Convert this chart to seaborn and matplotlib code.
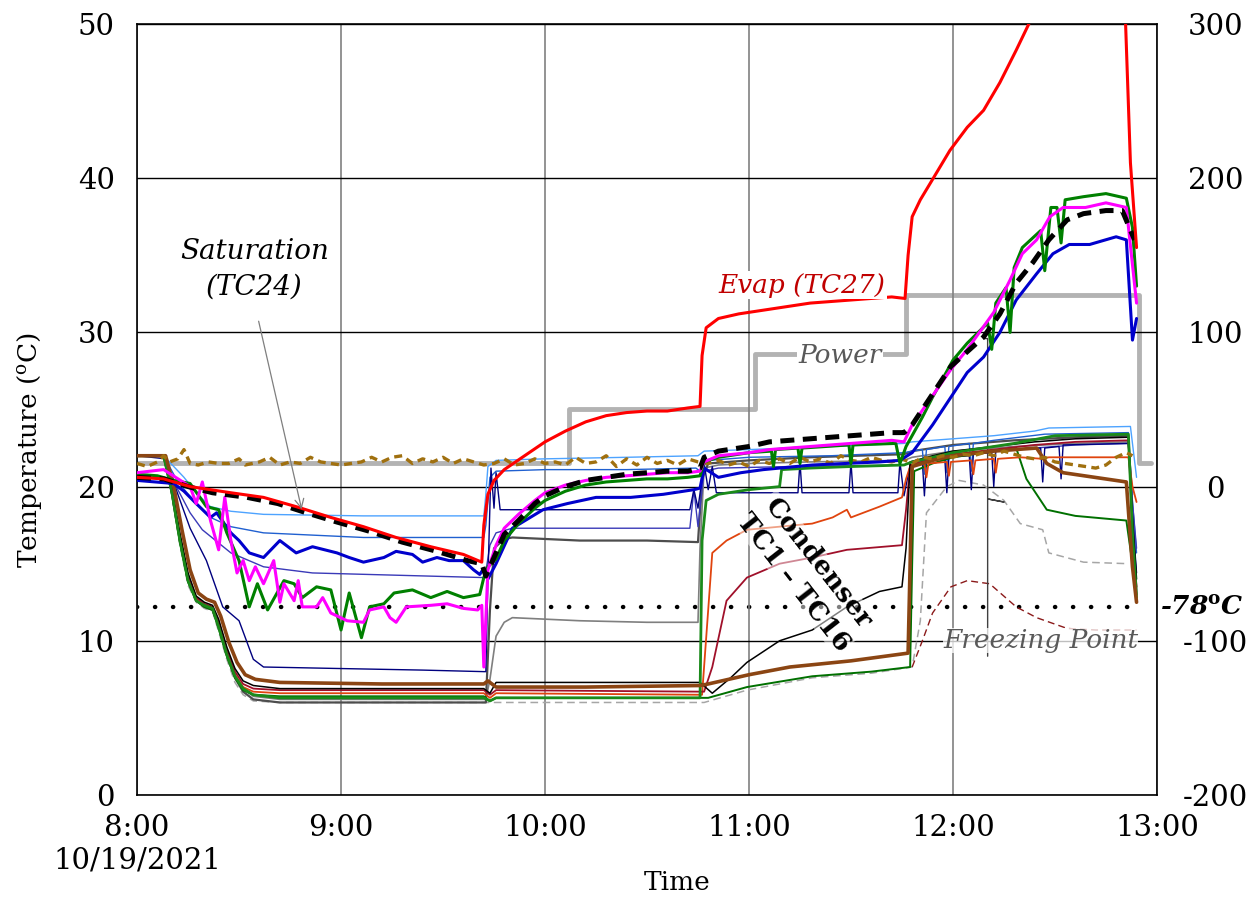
import matplotlib
matplotlib.use("Agg")
import matplotlib.pyplot as plt
import matplotlib.transforms as mtransforms
import seaborn as sns

# -------------------- data --------------------
# time in hours (8.0 = 8:00), temperature in degC, power on the right axis
X_TICKS = [8, 9, 10, 11, 12, 13]
X_LABELS = ["8:00\n10/19/2021", "9:00", "10:00", "11:00", "12:00", "13:00"]
Y_TICKS = [0, 10, 20, 30, 40, 50]
Y2_TICKS = [-200, -100, 0, 100, 200, 300]

power_t = [8.0, 10.12, 11.03, 11.77, 12.91, 12.97]
power_v = [15, 50, 86, 124, 15, 15]
dryice_t = [8.0, 12.89]
dryice_v = [-78, -78]

evap_pts = [(8.0, 20.6), (8.13, 20.5), (8.26, 20.0), (8.46, 19.6), (8.62, 19.3), (8.78, 18.7),
            (8.95, 18.0), (9.11, 17.4), (9.27, 16.7), (9.44, 16.1), (9.60, 15.6), (9.69, 15.1),
            (9.70, 17.5), (9.72, 19.5), (9.75, 20.4), (9.8, 21.1), (9.9, 22.0), (10.0, 22.9),
            (10.1, 23.6), (10.2, 24.2), (10.3, 24.6), (10.4, 24.8), (10.5, 24.9), (10.6, 24.9),
            (10.7, 25.1), (10.76, 25.2), (10.77, 28.5), (10.79, 30.3), (10.85, 30.9), (10.95, 31.2),
            (11.1, 31.5), (11.3, 31.9), (11.5, 32.1), (11.7, 32.3), (11.765, 32.2), (11.78, 35.0),
            (11.80, 37.5), (11.84, 38.6), (11.89, 39.7), (11.985, 41.8), (12.07, 43.3), (12.15, 44.4),
            (12.23, 46.2), (12.31, 48.3), (12.39, 50.5)]
evap_tail_pts = [(12.845, 50.5), (12.87, 41.0), (12.90, 35.5)]

sat_pts = [(8.0, 20.6), (8.13, 20.5), (8.25, 20.0), (8.37, 19.6), (8.54, 19.3), (8.69, 18.9),
           (8.83, 18.3), (8.98, 17.7), (9.14, 17.1), (9.30, 16.4), (9.47, 15.8), (9.62, 15.2),
           (9.69, 15.0), (9.71, 14.2), (9.73, 14.8), (9.76, 15.7), (9.8, 16.9), (9.87, 17.8),
           (9.95, 18.9), (10.0, 19.4), (10.1, 20.0), (10.2, 20.4), (10.3, 20.6), (10.4, 20.8),
           (10.5, 20.9), (10.6, 21.0), (10.7, 21.0), (10.76, 21.2), (10.78, 21.9), (10.85, 22.3),
           (11.0, 22.6), (11.1, 22.9), (11.2, 23.0), (11.3, 23.1), (11.4, 23.2), (11.5, 23.3),
           (11.6, 23.4), (11.7, 23.5), (11.76, 23.5), (11.8, 24.0), (11.89, 25.8), (11.99, 27.8),
           (12.15, 29.7), (12.23, 31.2), (12.31, 33.2), (12.39, 34.5), (12.47, 36.0), (12.56, 37.3),
           (12.64, 37.7), (12.75, 37.9), (12.83, 37.9), (12.89, 36.0)]

magenta_pts = [(8.0, 20.9), (8.13, 21.1), (8.26, 20.0), (8.29, 18.9), (8.32, 20.3), (8.36, 17.8),
               (8.40, 15.9), (8.43, 19.3), (8.46, 16.5), (8.49, 14.4), (8.52, 15.2), (8.55, 13.9),
               (8.58, 14.8), (8.62, 13.7), (8.67, 15.2), (8.70, 12.5), (8.72, 13.7), (8.77, 12.6),
               (8.79, 13.9), (8.81, 12.2), (8.88, 12.2), (8.91, 12.8), (8.95, 11.8), (9.03, 11.3),
               (9.11, 11.2), (9.14, 12.0), (9.21, 12.2), (9.24, 11.5), (9.27, 11.2), (9.32, 12.2),
               (9.44, 12.3), (9.52, 12.4), (9.60, 12.1), (9.67, 12.0), (9.69, 12.3), (9.70, 8.3),
               (9.72, 14.6), (9.76, 16.2), (9.80, 17.3), (9.87, 18.2), (9.95, 19.1), (10.0, 19.6),
               (10.1, 20.1), (10.2, 20.4), (10.3, 20.6), (10.4, 20.7), (10.5, 20.8), (10.6, 20.9),
               (10.7, 20.9), (10.76, 21.0), (10.78, 21.6), (10.85, 22.0), (11.0, 22.2), (11.1, 22.4),
               (11.2, 22.5), (11.3, 22.6), (11.4, 22.7), (11.5, 22.8), (11.6, 22.9), (11.7, 23.0),
               (11.76, 22.9), (11.8, 24.0), (11.89, 25.7), (11.99, 27.6), (12.07, 28.9), (12.2, 31.3),
               (12.28, 33.4), (12.34, 35.1), (12.41, 36.0), (12.475, 37.5), (12.54, 38.1), (12.65, 38.1),
               (12.75, 38.4), (12.85, 38.1), (12.90, 31.9)]

green_pts = [(8.0, 20.8), (8.10, 20.7), (8.18, 20.4), (8.26, 20.2), (8.34, 18.7), (8.40, 18.5),
             (8.44, 17.0), (8.50, 15.2), (8.55, 12.2), (8.59, 13.7), (8.64, 12.0), (8.72, 13.9),
             (8.77, 13.7), (8.81, 12.8), (8.88, 13.5), (8.95, 13.3), (9.0, 10.7), (9.04, 13.1),
             (9.10, 10.2), (9.14, 12.2), (9.21, 12.4), (9.26, 13.1), (9.35, 13.3), (9.44, 12.8),
             (9.52, 13.2), (9.60, 12.8), (9.68, 13.0), (9.70, 14.1), (9.72, 14.8), (9.76, 15.3),
             (9.80, 16.5), (9.87, 17.6), (9.95, 18.6), (10.0, 19.1), (10.1, 19.7), (10.2, 20.1),
             (10.3, 20.3), (10.4, 20.4), (10.5, 20.5), (10.6, 20.5), (10.7, 20.6), (10.76, 20.7),
             (10.78, 21.6), (10.85, 21.9), (11.0, 22.2), (11.11, 22.3), (11.12, 21.3), (11.13, 22.4),
             (11.24, 22.5), (11.25, 21.5), (11.26, 22.5), (11.49, 22.7), (11.50, 21.5), (11.51, 22.7),
             (11.72, 22.8), (11.74, 21.5), (11.77, 22.6), (11.85, 24.5), (11.9, 25.8), (11.95, 27.0),
             (12.0, 28.2), (12.07, 29.3), (12.17, 30.6), (12.19, 28.9), (12.21, 31.9), (12.26, 32.9),
             (12.28, 30.0), (12.30, 34.2), (12.34, 35.5), (12.43, 36.6), (12.45, 34.0), (12.48, 38.1),
             (12.51, 38.1), (12.53, 35.8), (12.55, 38.6), (12.64, 38.8), (12.75, 39.0), (12.85, 38.7),
             (12.88, 36.8), (12.90, 33.0)]

blue_pts = [(8.0, 20.4), (8.18, 20.2), (8.23, 19.7), (8.29, 18.9), (8.36, 18.0), (8.39, 18.3),
            (8.46, 17.0), (8.50, 16.5), (8.55, 15.7), (8.62, 15.4), (8.70, 16.5), (8.78, 15.7),
            (8.86, 16.1), (8.98, 15.7), (9.04, 15.4), (9.11, 15.1), (9.21, 15.4), (9.27, 15.8),
            (9.35, 15.6), (9.40, 15.1), (9.47, 15.4), (9.53, 15.2), (9.60, 15.2), (9.65, 14.6),
            (9.68, 14.3), (9.70, 14.7), (9.72, 14.0), (9.76, 15.0), (9.84, 17.3), (9.99, 18.5),
            (10.11, 18.9), (10.25, 19.3), (10.42, 19.3), (10.58, 19.5), (10.73, 19.8), (10.76, 19.9),
            (10.78, 21.2), (10.85, 20.6), (10.96, 20.9), (11.07, 21.1), (11.31, 21.4), (11.64, 21.6),
            (11.74, 21.7), (11.80, 22.2), (11.90, 24.0), (11.99, 25.8), (12.07, 27.4), (12.15, 28.4),
            (12.23, 30.0), (12.31, 32.1), (12.41, 33.8), (12.49, 35.1), (12.57, 35.7), (12.67, 35.7),
            (12.80, 36.2), (12.85, 36.0), (12.88, 29.5), (12.90, 30.9)]

ambient_pts = [(8.0, 21.5), (8.05, 21.3), (8.1, 21.6), (8.13, 22.0), (8.16, 21.6), (8.2, 21.8),
               (8.23, 22.4), (8.26, 21.5), (8.3, 21.4), (8.35, 21.6), (8.4, 21.5), (8.45, 21.5),
               (8.5, 21.8), (8.53, 21.4), (8.6, 21.6), (8.65, 21.9), (8.7, 21.4), (8.75, 21.6),
               (8.8, 21.5), (8.85, 21.9), (8.9, 21.6), (8.95, 21.5), (9.0, 21.4), (9.05, 21.5),
               (9.1, 21.6), (9.15, 21.9), (9.2, 21.6), (9.25, 21.9), (9.3, 22.0), (9.35, 21.5),
               (9.4, 21.8), (9.45, 21.6), (9.5, 21.9), (9.55, 21.5), (9.6, 21.8), (9.65, 21.6),
               (9.7, 21.4), (9.75, 21.5), (9.8, 21.8), (9.85, 21.4), (9.9, 21.5), (9.95, 21.8),
               (10.0, 21.5), (10.05, 21.6), (10.1, 21.4), (10.15, 21.9), (10.2, 21.5), (10.25, 21.6),
               (10.3, 22.0), (10.35, 21.3), (10.4, 21.8), (10.45, 21.4), (10.5, 21.9), (10.55, 21.5),
               (10.6, 21.7), (10.65, 21.4), (10.7, 21.8), (10.75, 21.6), (10.8, 21.5), (10.85, 21.7),
               (10.9, 21.4), (10.95, 21.6), (11.0, 21.3), (11.05, 21.7), (11.1, 21.5), (11.15, 21.8),
               (11.2, 21.5), (11.25, 21.9), (11.3, 21.6), (11.35, 21.8), (11.4, 21.5), (11.45, 22.0),
               (11.5, 21.7), (11.55, 21.6), (11.6, 21.9), (11.65, 21.7), (11.7, 21.6), (11.75, 21.8),
               (11.8, 21.5), (11.85, 21.9), (11.9, 21.8), (11.95, 22.0), (12.0, 21.9), (12.05, 22.1),
               (12.1, 22.0), (12.15, 22.2), (12.2, 22.0), (12.25, 22.3), (12.3, 22.1), (12.35, 21.9),
               (12.4, 21.8), (12.45, 21.9), (12.5, 21.6), (12.55, 21.5), (12.6, 21.4), (12.65, 21.3),
               (12.7, 21.2), (12.75, 21.4), (12.8, 21.9), (12.85, 22.2), (12.88, 22.0)]

# condenser thermocouples
brown_pts = [(8.0, 22.0), (8.14, 22.0), (8.18, 20.0), (8.22, 17.2), (8.26, 14.6), (8.30, 13.1),
             (8.34, 12.7), (8.38, 12.5), (8.41, 11.6), (8.45, 9.9), (8.49, 8.6), (8.53, 7.8),
             (8.58, 7.5), (8.70, 7.3), (9.2, 7.2), (9.70, 7.2), (9.72, 7.4), (9.76, 7.0),
             (10.2, 7.0), (10.76, 7.1), (10.8, 7.2), (11.0, 7.8), (11.2, 8.3), (11.5, 8.7),
             (11.78, 9.2), (11.79, 15.0), (11.80, 21.3), (11.9, 21.7), (12.0, 22.0), (12.2, 22.3),
             (12.41, 22.5), (12.46, 21.5), (12.54, 20.9), (12.85, 20.3), (12.88, 14.8), (12.90, 12.5)]

black_pts = [(8.0, 22.0), (8.13, 22.0), (8.17, 20.0), (8.21, 17.0), (8.25, 14.4), (8.29, 12.9),
             (8.33, 12.5), (8.37, 12.3), (8.40, 11.4), (8.44, 9.6), (8.48, 8.2), (8.52, 7.4),
             (8.57, 7.1), (8.70, 6.9), (9.70, 6.9), (9.73, 6.6), (9.76, 7.3), (10.76, 7.3),
             (10.82, 6.6), (10.91, 7.6), (10.99, 8.6), (11.15, 10.0), (11.31, 10.7), (11.48, 12.2),
             (11.64, 13.2), (11.75, 13.5), (11.77, 16.0), (11.79, 21.6), (11.9, 22.0), (12.0, 22.3),
             (12.2, 22.6), (12.4, 22.9), (12.6, 23.1), (12.86, 23.2), (12.88, 18.0), (12.90, 14.0)]

crimson_pts = [(8.0, 22.0), (8.13, 22.0), (8.17, 19.8), (8.21, 16.8), (8.25, 14.2), (8.29, 12.8),
               (8.33, 12.4), (8.37, 12.2), (8.40, 11.2), (8.44, 9.4), (8.48, 8.0), (8.52, 7.2),
               (8.57, 6.9), (8.70, 6.8), (9.70, 6.8), (9.73, 6.5), (9.76, 6.8), (10.78, 6.7),
               (10.82, 8.3), (10.89, 12.6), (10.99, 14.1), (11.15, 15.0), (11.31, 15.4), (11.48, 15.9),
               (11.75, 16.2), (11.77, 18.5), (11.79, 21.4), (11.9, 21.8), (12.0, 22.1), (12.2, 22.4),
               (12.4, 22.7), (12.6, 22.9), (12.86, 23.0), (12.88, 17.0), (12.90, 13.5)]

orange_pts = [(8.0, 22.0), (8.13, 22.0), (8.17, 19.7), (8.21, 16.6), (8.25, 14.0), (8.29, 12.7),
              (8.33, 12.3), (8.37, 12.1), (8.40, 11.0), (8.44, 9.2), (8.48, 7.8), (8.52, 7.0),
              (8.57, 6.7), (8.70, 6.6), (9.70, 6.6), (9.73, 6.3), (9.76, 6.6), (10.77, 6.5),
              (10.80, 12.0), (10.82, 15.7), (10.89, 16.5), (10.99, 17.2), (11.15, 17.4), (11.31, 17.6),
              (11.41, 18.0), (11.48, 18.5), (11.50, 18.0), (11.64, 18.7), (11.75, 19.3), (11.77, 20.5),
              (11.79, 21.3), (11.86, 21.5), (11.87, 20.6), (11.88, 21.5), (11.97, 21.6), (11.98, 20.7),
              (11.99, 21.6), (12.09, 21.7), (12.10, 20.8), (12.11, 21.7), (12.20, 21.8), (12.21, 20.9),
              (12.22, 21.8), (12.33, 21.9), (12.44, 21.8), (12.47, 21.9), (12.86, 21.9), (12.88, 20.0),
              (12.90, 19.0)]

green_thin_pts = [(8.0, 22.0), (8.13, 22.0), (8.17, 19.6), (8.21, 16.4), (8.25, 13.8), (8.29, 12.6),
                  (8.33, 12.2), (8.37, 12.0), (8.40, 10.8), (8.44, 9.0), (8.48, 7.6), (8.52, 6.8),
                  (8.57, 6.5), (8.70, 6.4), (9.70, 6.4), (9.73, 6.1), (9.76, 6.3), (10.80, 6.3),
                  (10.99, 7.0), (11.31, 7.7), (11.60, 8.0), (11.79, 8.3), (11.80, 15.0), (11.81, 21.0),
                  (11.9, 21.5), (12.0, 21.9), (12.2, 22.3), (12.31, 22.5), (12.36, 20.5), (12.46, 18.5),
                  (12.6, 18.1), (12.85, 17.8), (12.88, 15.0), (12.90, 12.5)]

green2_pts = [(8.0, 22.0), (8.13, 22.0), (8.17, 19.7), (8.21, 16.5), (8.25, 13.9), (8.29, 12.6),
              (8.33, 12.3), (8.37, 12.1), (8.40, 10.9), (8.44, 9.1), (8.48, 7.7), (8.52, 6.9),
              (8.57, 6.5), (8.70, 6.3), (9.70, 6.3), (9.73, 6.1), (9.76, 6.3), (10.76, 6.3),
              (10.77, 16.5), (10.79, 19.1), (10.85, 19.5), (11.0, 19.8), (11.15, 20.0), (11.16, 21.1),
              (11.3, 21.2), (11.5, 21.3), (11.76, 21.4), (11.8, 21.6), (12.0, 22.2), (12.3, 22.8),
              (12.5, 23.3), (12.86, 23.4), (12.88, 17.0), (12.90, 12.8)]

gray_dash_pts = [(8.0, 22.0), (8.13, 22.0), (8.17, 19.5), (8.21, 16.2), (8.25, 13.6), (8.29, 12.5),
                 (8.33, 12.1), (8.37, 11.9), (8.40, 10.6), (8.44, 8.8), (8.48, 7.3), (8.52, 6.5),
                 (8.57, 6.1), (8.70, 6.0), (9.70, 6.0), (9.76, 6.0), (10.78, 6.0), (10.99, 6.8),
                 (11.31, 7.6), (11.60, 7.9), (11.80, 8.3), (11.84, 11.3), (11.87, 18.3), (11.97, 20.0),
                 (12.03, 20.4), (12.15, 20.1), (12.25, 19.1), (12.33, 17.6), (12.44, 17.2), (12.47, 15.7),
                 (12.64, 15.1), (12.86, 15.0)]

freeze_pts = [(11.80, 8.3), (11.85, 10.0), (11.90, 11.8), (11.99, 13.5), (12.07, 13.9), (12.18, 13.7),
              (12.31, 12.2), (12.41, 11.5), (12.56, 10.8), (12.70, 10.7), (12.90, 10.7)]

stray_pts = [(12.15, 29.6), (12.17, 29.6), (12.17, 19.2), (12.25, 19.0), (12.17, 19.2), (12.17, 9.0)]

gray_pts = [(8.0, 22.0), (8.13, 22.0), (8.17, 19.8), (8.21, 16.6), (8.25, 14.0), (8.29, 12.7),
            (8.33, 12.3), (8.37, 12.1), (8.40, 11.1), (8.44, 9.3), (8.48, 7.8), (8.52, 6.9),
            (8.57, 6.4), (8.70, 6.2), (9.71, 6.2), (9.73, 7.5), (9.76, 10.3), (9.80, 11.2),
            (9.84, 11.5), (10.17, 11.3), (10.50, 11.2), (10.75, 11.2), (10.76, 16.0), (10.78, 21.2),
            (10.85, 21.4), (11.0, 21.5), (11.3, 21.6), (11.76, 21.7), (11.8, 21.9), (12.0, 22.3),
            (12.3, 22.6), (12.6, 22.8), (12.86, 22.9), (12.88, 19.5)]

dkgray_pts = [(8.0, 22.0), (8.13, 22.0), (8.17, 19.6), (8.21, 16.5), (8.25, 13.9), (8.29, 12.6),
              (8.33, 12.2), (8.37, 12.0), (8.40, 11.0), (8.44, 9.1), (8.48, 7.6), (8.52, 6.7),
              (8.57, 6.2), (8.70, 6.0), (9.71, 6.0), (9.73, 12.0), (9.75, 16.0), (9.80, 16.6),
              (9.84, 16.7), (10.17, 16.5), (10.5, 16.5), (10.75, 16.4), (10.77, 20.5), (10.80, 21.5),
              (11.0, 21.7), (11.3, 21.9), (11.76, 22.1), (11.8, 22.3), (12.0, 22.7), (12.3, 23.0),
              (12.6, 23.2), (12.86, 23.3), (12.88, 18.0), (12.90, 13.0)]

navy_pts = [(8.0, 22.0), (8.14, 21.8), (8.20, 19.5), (8.26, 17.3), (8.34, 15.2), (8.42, 12.2),
            (8.50, 11.3), (8.57, 8.8), (8.62, 8.3), (9.0, 8.2), (9.4, 8.1), (9.70, 8.0),
            (9.71, 8.0), (9.72, 14.0), (9.735, 21.2), (9.75, 18.6), (9.76, 20.9), (9.78, 18.5),
            (9.80, 18.5), (10.2, 18.5), (10.5, 18.5), (10.71, 18.5), (10.73, 19.8), (10.75, 18.6),
            (10.78, 21.5), (10.80, 19.8), (10.82, 21.3), (10.84, 19.6), (11.24, 19.6), (11.25, 21.6),
            (11.26, 19.6), (11.49, 19.6), (11.50, 21.6), (11.51, 19.6), (11.73, 19.6), (11.74, 21.6),
            (11.76, 19.4), (11.79, 21.4), (11.85, 21.6), (11.86, 19.4), (11.87, 21.7), (11.96, 21.8),
            (11.97, 19.6), (11.98, 21.9), (12.08, 22.0), (12.09, 19.8), (12.10, 22.1), (12.19, 22.2),
            (12.20, 20.0), (12.21, 22.3), (12.43, 22.5), (12.44, 20.3), (12.45, 22.5), (12.52, 22.6),
            (12.53, 20.5), (12.54, 22.7), (12.86, 22.8), (12.88, 18.0), (12.90, 14.4)]

royal_pts = [(8.0, 22.0), (8.13, 22.0), (8.20, 20.3), (8.29, 18.9), (8.36, 18.0), (8.46, 17.4),
             (8.62, 17.0), (9.11, 16.7), (9.70, 16.7), (9.71, 17.5), (9.73, 20.6), (9.76, 21.0),
             (10.0, 21.1), (10.4, 21.1), (10.74, 21.2), (10.76, 21.0), (10.80, 21.7), (11.0, 21.9),
             (11.4, 22.0), (11.76, 22.2), (11.8, 22.3), (11.85, 22.4), (11.86, 20.8), (11.87, 22.4),
             (11.96, 22.6), (11.97, 20.9), (11.98, 22.6), (12.08, 22.8), (12.09, 21.0), (12.10, 22.8),
             (12.2, 23.0), (12.45, 23.4), (12.86, 23.5), (12.88, 19.0), (12.90, 15.7)]

light_pts = [(8.0, 22.0), (8.13, 22.0), (8.23, 20.6), (8.29, 19.6), (8.36, 18.7), (8.46, 18.4),
             (8.62, 18.2), (9.11, 18.1), (9.70, 18.1), (9.71, 19.5), (9.72, 21.3), (9.76, 21.7),
             (10.0, 21.8), (10.4, 21.9), (10.75, 22.0), (10.78, 22.3), (11.0, 22.4), (11.4, 22.6),
             (11.76, 22.8), (11.8, 22.9), (12.0, 23.1), (12.2, 23.3), (12.4, 23.6), (12.47, 23.8),
             (12.87, 23.9), (12.90, 20.6)]

slate_pts = [(8.0, 22.0), (8.13, 22.0), (8.20, 19.8), (8.26, 18.3), (8.32, 17.2), (8.46, 15.7),
             (8.62, 14.8), (8.86, 14.4), (9.70, 14.1), (9.71, 14.5), (9.73, 16.2), (9.76, 17.0),
             (9.84, 17.3), (10.2, 17.3), (10.6, 17.3), (10.71, 17.3), (10.73, 19.8), (10.75, 17.4),
             (10.78, 21.0), (10.85, 21.2), (11.2, 21.3), (11.76, 21.4), (11.8, 21.6), (12.0, 22.0),
             (12.3, 22.4), (12.6, 22.7), (12.86, 22.8), (12.88, 19.0), (12.90, 16.0)]

# -------------------- style --------------------
sns.set_style("white")
plt.rcParams['font.family'] = ['DejaVu Serif']
plt.rcParams['mathtext.fontset'] = 'dejavuserif'
plt.rcParams['text.color'] = 'black'
plt.rcParams['axes.labelcolor'] = 'black'
plt.rcParams['xtick.color'] = 'black'
plt.rcParams['ytick.color'] = 'black'


def trace(ax, pts, color, lw, ls='-', z=2, **kw):
    t, v = zip(*pts)
    sns.lineplot(x=list(t), y=list(v), ax=ax, color=color, linewidth=lw, linestyle=ls,
                 estimator=None, sort=False, legend=False, zorder=z, **kw)


fig = plt.figure(figsize=(12.54, 8.98), dpi=100)
ax = fig.add_axes([0.1093, 0.1147, 0.8133, 0.8586])
ax2 = ax.twinx()
ax.set_zorder(ax2.get_zorder() + 1)
ax.patch.set_visible(False)

# right axis: heater power + dry ice reference
sns.lineplot(x=power_t, y=power_v, ax=ax2, color='#b3b3b3', linewidth=3.5,
             drawstyle='steps-post', estimator=None, sort=False, legend=False)
sns.lineplot(x=dryice_t, y=dryice_v, ax=ax2, color='black', linewidth=3.2,
             linestyle=(0, (0.05, 4.0)), dash_capstyle='round',
             estimator=None, sort=False, legend=False, zorder=5)

# thin condenser traces
trace(ax, gray_dash_pts, '#a6a6a6', 1.1, ls=(0, (5, 3)))
trace(ax, freeze_pts, '#8b1a1a', 1.0, ls=(0, (5, 3)))
trace(ax, stray_pts, '#404040', 1.0)
trace(ax, gray_pts, '#7f7f7f', 1.2)
trace(ax, dkgray_pts, '#4d4d4d', 1.6)
trace(ax, light_pts, '#4da3ff', 1.0)
trace(ax, royal_pts, '#2060d0', 1.0)
trace(ax, slate_pts, '#3a3ab8', 1.0)
trace(ax, navy_pts, '#00007f', 1.0)
trace(ax, green_thin_pts, '#007000', 1.4)
trace(ax, orange_pts, '#e0440e', 1.3)
trace(ax, crimson_pts, '#a0102a', 1.3)
trace(ax, black_pts, '#000000', 1.1)
trace(ax, green2_pts, '#1a8a1a', 2.0, z=3)
trace(ax, brown_pts, '#8b4513', 2.6, z=3)
trace(ax, ambient_pts, '#a0700f', 2.4, ls=(0, (2.4, 1.6)), z=4)

# main traces
trace(ax, blue_pts, '#0000cc', 2.2, z=5)
trace(ax, green_pts, '#008000', 2.2, z=5)
trace(ax, magenta_pts, '#ff00ff', 2.2, z=6)
trace(ax, sat_pts, '#000000', 3.6, ls=(0, (2.8, 1.7)), z=7)
trace(ax, evap_pts, '#ff0000', 2.2, z=8)
trace(ax, evap_tail_pts, '#ff0000', 2.2, z=8)

# axes
ax.set_xlim(8, 13)
ax.set_ylim(0, 50)
ax2.set_ylim(-200, 300)
ax.set_xticks(X_TICKS)
ax.set_xticklabels(X_LABELS)
ax.set_yticks(Y_TICKS)
ax.set_yticklabels([str(v) for v in Y_TICKS])
ax2.set_yticks(Y2_TICKS)
ax2.set_yticklabels([str(v) for v in Y2_TICKS])
for lbl in ax2.get_yticklabels():
    lbl.set_horizontalalignment('center')

ax.tick_params(axis='both', length=0, labelsize=21)
ax.tick_params(axis='y', pad=16)
ax.tick_params(axis='x', pad=14)
ax2.tick_params(axis='y', length=0, labelsize=21, pad=42)

ax.grid(True, axis='y', color='black', linewidth=1.0)
ax.grid(True, axis='x', color='#808080', linewidth=1.2)
for s in ax.spines.values():
    s.set_visible(True)
    s.set_color('black')
    s.set_linewidth(1.2)
for s in ax2.spines.values():
    s.set_visible(False)

ax.set_xlabel("Time", fontsize=19, va='center')
ax.xaxis.set_label_coords(0.530, -0.114)
ax.set_ylabel("Temperature ($^{\\mathrm{o}}$C)", fontsize=19, va='center')
ax.yaxis.set_label_coords(-0.105, 0.447)

# annotations
ax.text(8.574, 34.1, "Saturation\n(TC24)", ha='center', va='center', style='italic',
        fontsize=20, linespacing=1.4, zorder=10)
ax.annotate("", xy=(8.81, 18.35), xytext=(8.593, 30.9),
            arrowprops=dict(arrowstyle='->', color='#7f7f7f', lw=0.9, mutation_scale=16),
            zorder=10)
ax.text(11.26, 33.07, "Evap (TC27)", ha='center', va='center', style='italic', fontsize=19,
        color='#c00000', zorder=10,
        bbox=dict(facecolor='white', edgecolor='none', pad=1))
ax.text(11.446, 28.53, "Power", ha='center', va='center', style='italic', fontsize=19,
        color='#595959', zorder=10,
        bbox=dict(facecolor='white', edgecolor='none', pad=1))
ax.text(12.43, 10.05, "Freezing Point", ha='center', va='center', style='italic', fontsize=19,
        color='#595959', zorder=10,
        bbox=dict(facecolor='white', edgecolor='none', alpha=0.75, pad=0))
ax.text(11.28, 14.4, "Condenser\nTC1 \u2013 TC16", ha='center', va='center', rotation=-52,
        rotation_mode='anchor', fontweight='bold', fontsize=19, linespacing=1.3, zorder=10,
        color='black', bbox=dict(facecolor='white', edgecolor='none', alpha=0.5, pad=0))
trans = mtransforms.blended_transform_factory(ax.transAxes, ax.transData)
ax.text(1.003, 12.2, "-78$^{\\mathbf{o}}$C", transform=trans, ha='left', va='center',
        fontweight='bold', style='italic', fontsize=19, clip_on=False)

fig.savefig("out.png", dpi=100)
